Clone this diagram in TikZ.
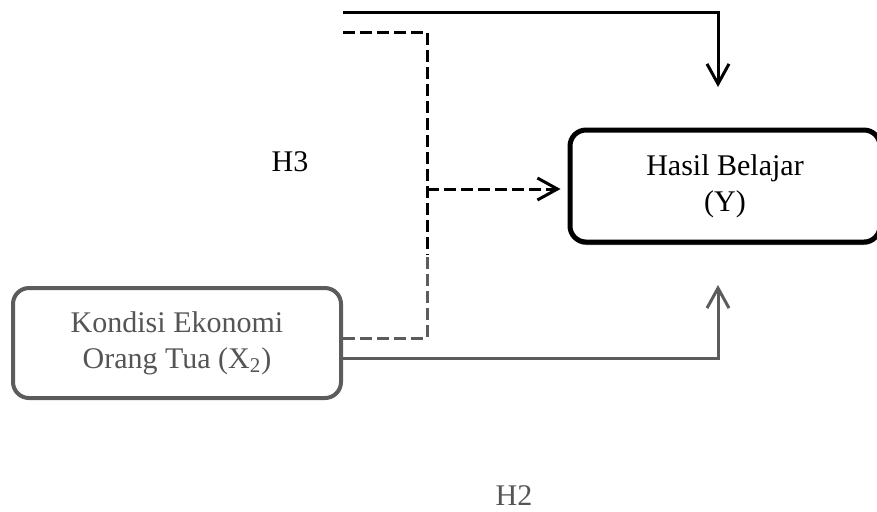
\documentclass[tikz,border=0pt]{standalone}
\usepackage{fontspec}
\setmainfont{Liberation Serif}
\usetikzlibrary{positioning,arrows.meta,shadows}

\definecolor{abu}{HTML}{5C5C5C}
\definecolor{abuteks}{HTML}{555555}

\begin{document}
\begin{tikzpicture}[x=0.5pt,y=-0.5pt,
    kotak/.style={draw, rounded corners=8pt, align=center, fill=white, font=\fontsize{15}{18}\selectfont},
    panah/.style={-{Straight Barb[length=10pt,width=11pt]}, line width=1.5pt},
    putus/.style={line width=1.5pt, dash pattern=on 6pt off 2.5pt}]
    \useasboundingbox (0,0) rectangle (877,511);

    %kotak variabel
    \node[kotak, line width=2.5pt, minimum width=155pt, minimum height=56pt,
      drop shadow={shadow xshift=0pt, shadow yshift=-1.5pt, fill=gray, opacity=0.9}] (Y) at (725,186) {Hasil Belajar\\(Y)};
    \node[kotak, draw=abu, text=abuteks, line width=2pt, minimum width=164pt, minimum height=55pt] (X2) at (177,343) {Kondisi Ekonomi\\Orang Tua (X\textsubscript{2})};

    %jalur dari atas
    \coordinate (s1) at (343,12);
    \coordinate (a1) at (718,87);
    \draw[panah] (s1) -| (a1);

    %garis putus-putus H3
    \coordinate (s2) at (343,32);
    \coordinate (j) at (427,189);
    \coordinate (m) at (427,255);
    \draw[putus] (s2) -| (m);
    \draw[putus, abu] ([yshift=2.5pt]X2.east) -| (m);
    \draw[putus, panah, shorten >=3.5pt] (j) -- (Y.west |- j);

    %X2 ke Y
    \coordinate (a2) at (718,285);
    \draw[panah, abu] ([yshift=-7.5pt]X2.east) -| (a2);

    %label
    \node[font=\fontsize{15}{18}\selectfont] (h3) at (290,162) {H3};
    \node[font=\fontsize{15}{18}\selectfont, text=abuteks] (h2) at (514,496) {H2};
\end{tikzpicture}
\end{document}
